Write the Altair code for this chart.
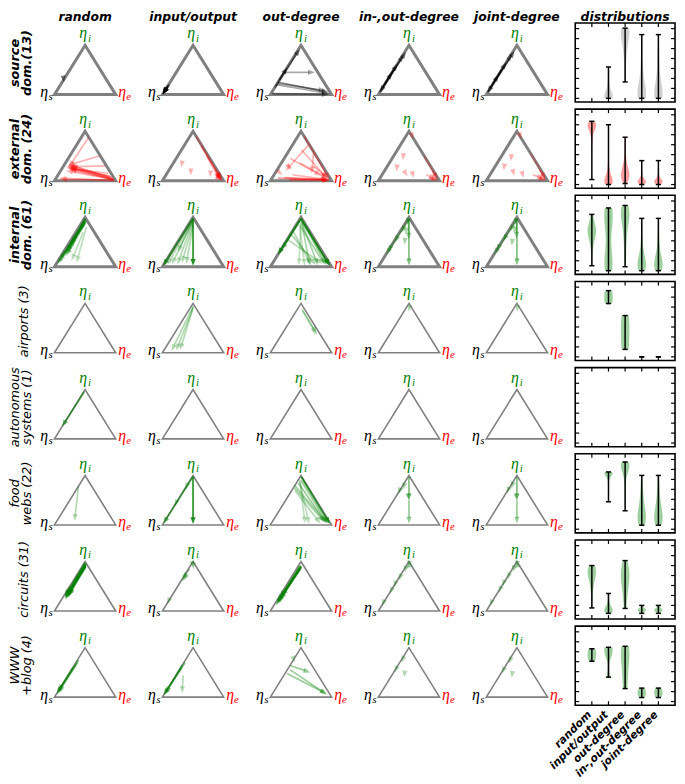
import math
import altair as alt
import pandas as pd

# ------------------------------------------------------------------ data
METHODS = ["random", "input/output", "out-degree", "in-,out-degree", "joint-degree"]
COL_TITLES = METHODS + ["distributions"]
ROW_LABELS = [["source", "dom.(13)"], ["external", "dom. (24)"], ["internal", "dom. (61)"],
              ["airports (3)"], ["autonomous", "systems (1)"], ["food", "webs (22)"],
              ["circuits (31)"], ["WWW", "+blog (4)"]]
ROW_BOLD = [True, True, True, False, False, False, False, False]
ARROW_COLORS = ["#000000", "#ff0000", "#008000", "#008000", "#008000", "#008000", "#008000", "#008000"]
VIOLIN_COLORS = ["#808080", "#ff0000", "#008000", "#008000", "#008000", "#008000", "#008000", "#008000"]

# arrows per method: (eta_i start, eta_e start, eta_i end, eta_e end, alpha)
SOURCE_ARROWS = [
    [(0.30, 0.00, 0.25, 0.03, 0.5)],
    [(0.18, 0.00, 0.01, 0.00, 0.7), (0.15, 0.01, 0.01, 0.00, 0.7), (0.12, 0.00, 0.00, 0.01, 0.7),
     (0.20, 0.01, 0.02, 0.00, 0.6), (0.09, 0.00, 0.00, 0.00, 0.6)],
    [(0.45, 0.00, 0.45, 0.50, 0.35), (0.25, 0.00, 0.05, 0.92, 0.5), (0.22, 0.02, 0.08, 0.86, 0.35),
     (0.20, 0.00, 0.02, 0.95, 0.35), (0.02, 0.02, 0.00, 0.95, 0.4), (0.30, 0.00, 0.92, 0.02, 0.5),
     (0.15, 0.00, 0.55, 0.00, 0.5)],
    [(0.20, 0.00, 0.86, 0.02, 0.5), (0.10, 0.00, 0.62, 0.00, 0.5), (0.55, 0.00, 0.05, 0.00, 0.5),
     (0.35, 0.00, 0.80, 0.01, 0.4), (0.05, 0.00, 0.45, 0.00, 0.5)],
    [(0.22, 0.00, 0.88, 0.02, 0.5), (0.12, 0.00, 0.65, 0.00, 0.5), (0.50, 0.00, 0.04, 0.00, 0.5),
     (0.30, 0.00, 0.82, 0.01, 0.4), (0.05, 0.00, 0.40, 0.00, 0.5)],
]
EXTERNAL_ARROWS = [
    [(0.02, 0.95, 0.30, 0.08, 0.3), (0.04, 0.92, 0.27, 0.10, 0.3), (0.06, 0.90, 0.33, 0.06, 0.3),
     (0.01, 0.97, 0.25, 0.12, 0.3), (0.08, 0.88, 0.29, 0.05, 0.3), (0.03, 0.94, 0.22, 0.14, 0.3),
     (0.05, 0.93, 0.31, 0.12, 0.3), (0.10, 0.85, 0.26, 0.07, 0.3), (0.02, 0.96, 0.20, 0.09, 0.3),
     (0.00, 0.98, 0.05, 0.05, 0.3), (0.01, 0.95, 0.03, 0.08, 0.3), (0.88, 0.12, 0.27, 0.10, 0.3),
     (0.50, 0.48, 0.31, 0.06, 0.3), (0.30, 0.68, 0.28, 0.11, 0.3), (0.15, 0.80, 0.24, 0.13, 0.3)],
    [(0.90, 0.10, 0.02, 0.96, 0.3), (0.70, 0.28, 0.03, 0.95, 0.3), (0.50, 0.47, 0.02, 0.93, 0.3),
     (0.33, 0.15, 0.27, 0.17, 0.3), (0.17, 0.38, 0.11, 0.41, 0.3), (0.13, 0.72, 0.07, 0.75, 0.3),
     (0.22, 0.75, 0.04, 0.92, 0.3), (0.10, 0.85, 0.02, 0.96, 0.3), (0.05, 0.90, 0.01, 0.97, 0.5),
     (0.15, 0.82, 0.01, 0.96, 0.4)],
    [(0.90, 0.10, 0.03, 0.95, 0.35), (0.62, 0.20, 0.05, 0.90, 0.3), (0.45, 0.10, 0.10, 0.78, 0.3),
     (0.30, 0.55, 0.04, 0.93, 0.3), (0.55, 0.43, 0.15, 0.60, 0.3), (0.26, 0.18, 0.22, 0.22, 0.3),
     (0.14, 0.10, 0.11, 0.14, 0.3), (0.12, 0.30, 0.02, 0.92, 0.3), (0.06, 0.20, 0.02, 0.94, 0.4),
     (0.36, 0.30, 0.04, 0.92, 0.3), (0.72, 0.26, 0.20, 0.15, 0.3), (0.05, 0.10, 0.02, 0.96, 0.4),
     (0.02, 0.30, 0.01, 0.96, 0.5)],
    [(0.47, 0.17, 0.42, 0.19, 0.3), (0.24, 0.18, 0.19, 0.20, 0.3), (0.10, 0.52, 0.06, 0.55, 0.3),
     (0.88, 0.12, 0.84, 0.15, 0.3), (0.50, 0.50, 0.03, 0.95, 0.25), (0.20, 0.78, 0.02, 0.96, 0.3),
     (0.12, 0.72, 0.04, 0.92, 0.3), (0.06, 0.80, 0.01, 0.97, 0.5), (0.12, 0.40, 0.09, 0.43, 0.3)],
    [(0.45, 0.18, 0.40, 0.20, 0.3), (0.26, 0.16, 0.21, 0.18, 0.3), (0.10, 0.55, 0.06, 0.58, 0.3),
     (0.88, 0.12, 0.84, 0.15, 0.3), (0.55, 0.45, 0.03, 0.95, 0.25), (0.22, 0.76, 0.02, 0.96, 0.3),
     (0.12, 0.70, 0.04, 0.92, 0.3), (0.06, 0.82, 0.01, 0.97, 0.5), (0.14, 0.38, 0.10, 0.41, 0.3)],
]
INTERNAL_ARROWS = [
    [(0.97, 0.02, 0.20, 0.03, 0.4), (0.95, 0.03, 0.25, 0.05, 0.4), (0.93, 0.03, 0.30, 0.04, 0.4),
     (0.92, 0.05, 0.35, 0.06, 0.4), (0.90, 0.05, 0.40, 0.05, 0.4), (0.88, 0.06, 0.45, 0.04, 0.4),
     (0.96, 0.02, 0.15, 0.02, 0.4), (0.94, 0.04, 0.10, 0.03, 0.4), (0.90, 0.04, 0.05, 0.02, 0.4),
     (0.85, 0.06, 0.50, 0.03, 0.4), (0.98, 0.01, 0.28, 0.07, 0.4), (0.91, 0.06, 0.22, 0.08, 0.4),
     (0.80, 0.12, 0.08, 0.32, 0.25), (0.70, 0.12, 0.12, 0.22, 0.25)],
    [(0.98, 0.01, 0.02, 0.49, 0.85), (0.97, 0.01, 0.02, 0.00, 0.7), (0.95, 0.03, 0.05, 0.13, 0.3),
     (0.92, 0.04, 0.05, 0.22, 0.3), (0.88, 0.06, 0.08, 0.28, 0.3), (0.84, 0.08, 0.06, 0.36, 0.3),
     (0.90, 0.03, 0.30, 0.10, 0.3), (0.94, 0.02, 0.04, 0.06, 0.3)],
    [(0.98, 0.01, 0.02, 0.96, 0.8), (0.97, 0.01, 0.25, 0.00, 0.8), (0.92, 0.05, 0.04, 0.62, 0.35),
     (0.88, 0.08, 0.03, 0.76, 0.35), (0.85, 0.05, 0.05, 0.86, 0.35), (0.95, 0.03, 0.03, 0.90, 0.4),
     (0.65, 0.02, 0.04, 0.72, 0.3), (0.55, 0.01, 0.06, 0.82, 0.3), (0.70, 0.03, 0.02, 0.66, 0.3),
     (0.90, 0.05, 0.03, 0.45, 0.25), (0.80, 0.08, 0.02, 0.55, 0.25), (0.93, 0.02, 0.35, 0.01, 0.5),
     (0.96, 0.02, 0.03, 0.94, 0.5)],
    [(0.97, 0.015, 0.03, 0.485, 0.5), (0.95, 0.02, 0.55, 0.22, 0.4), (0.80, 0.02, 0.70, 0.03, 0.4),
     (0.60, 0.01, 0.50, 0.02, 0.4), (0.40, 0.00, 0.30, 0.02, 0.4), (0.90, 0.03, 0.85, 0.05, 0.4),
     (0.50, 0.18, 0.45, 0.20, 0.35), (0.95, 0.02, 0.25, 0.00, 0.35), (0.70, 0.10, 0.65, 0.12, 0.3)],
    [(0.97, 0.015, 0.03, 0.485, 0.5), (0.95, 0.02, 0.57, 0.21, 0.4), (0.82, 0.02, 0.72, 0.03, 0.4),
     (0.62, 0.01, 0.52, 0.02, 0.4), (0.42, 0.00, 0.32, 0.02, 0.4), (0.90, 0.03, 0.85, 0.05, 0.4),
     (0.48, 0.18, 0.43, 0.20, 0.35), (0.95, 0.02, 0.25, 0.00, 0.35), (0.72, 0.10, 0.67, 0.12, 0.3)],
]
AIRPORT_ARROWS = [
    [],
    [(0.95, 0.03, 0.04, 0.13, 0.3), (0.93, 0.04, 0.06, 0.26, 0.3), (0.90, 0.05, 0.05, 0.20, 0.3)],
    [(0.88, 0.08, 0.40, 0.55, 0.3), (0.85, 0.10, 0.36, 0.58, 0.3)],
    [(0.86, 0.07, 0.83, 0.08, 0.3)],
    [(0.86, 0.07, 0.83, 0.08, 0.3)],
]
AUTONOMOUS_ARROWS = [
    [(0.95, 0.01, 0.25, 0.00, 0.6)], [], [], [], [],
]
FOOD_ARROWS = [
    [(0.78, 0.00, 0.08, 0.29, 0.3)],
    [(0.98, 0.01, 0.02, 0.49, 0.85), (0.97, 0.01, 0.03, 0.00, 0.6), (0.80, 0.00, 0.72, 0.02, 0.3),
     (0.45, 0.00, 0.38, 0.01, 0.3)],
    [(0.97, 0.02, 0.02, 0.96, 0.8), (0.90, 0.05, 0.03, 0.92, 0.4), (0.85, 0.03, 0.05, 0.88, 0.4),
     (0.80, 0.00, 0.04, 0.90, 0.35), (0.75, 0.02, 0.06, 0.85, 0.35), (0.92, 0.02, 0.03, 0.55, 0.25),
     (0.88, 0.04, 0.02, 0.62, 0.25), (0.70, 0.05, 0.03, 0.80, 0.3)],
    [(0.97, 0.015, 0.50, 0.25, 0.5), (0.50, 0.25, 0.03, 0.485, 0.4), (0.80, 0.02, 0.72, 0.04, 0.35),
     (0.70, 0.00, 0.62, 0.02, 0.35), (0.55, 0.22, 0.50, 0.25, 0.3)],
    [(0.97, 0.015, 0.50, 0.25, 0.5), (0.50, 0.25, 0.03, 0.485, 0.4), (0.82, 0.02, 0.74, 0.04, 0.35),
     (0.72, 0.00, 0.64, 0.02, 0.35), (0.55, 0.22, 0.50, 0.25, 0.3)],
]
CIRCUIT_ARROWS = [
    [(0.97, 0.02, 0.30, 0.02, 0.5), (0.95, 0.03, 0.28, 0.04, 0.5), (0.93, 0.03, 0.33, 0.03, 0.5),
     (0.92, 0.05, 0.26, 0.05, 0.5), (0.96, 0.02, 0.35, 0.04, 0.5), (0.94, 0.04, 0.30, 0.06, 0.5),
     (0.90, 0.06, 0.32, 0.05, 0.5), (0.98, 0.01, 0.27, 0.03, 0.5), (0.91, 0.05, 0.29, 0.07, 0.5),
     (0.95, 0.04, 0.24, 0.06, 0.5), (0.89, 0.07, 0.34, 0.06, 0.5), (0.93, 0.05, 0.31, 0.08, 0.4)],
    [(0.95, 0.03, 0.85, 0.08, 0.3), (0.85, 0.02, 0.65, 0.00, 0.3), (0.75, 0.01, 0.60, 0.02, 0.3),
     (0.92, 0.04, 0.88, 0.07, 0.3), (0.20, 0.00, 0.14, 0.01, 0.3), (0.70, 0.03, 0.62, 0.03, 0.3)],
    [(0.92, 0.04, 0.20, 0.02, 0.5), (0.90, 0.05, 0.25, 0.03, 0.5), (0.88, 0.06, 0.18, 0.04, 0.5),
     (0.91, 0.03, 0.28, 0.02, 0.5), (0.87, 0.05, 0.22, 0.05, 0.5), (0.89, 0.04, 0.15, 0.03, 0.5),
     (0.86, 0.07, 0.30, 0.04, 0.5), (0.90, 0.06, 0.12, 0.03, 0.5)],
    [(0.95, 0.03, 0.88, 0.06, 0.3), (0.85, 0.02, 0.78, 0.05, 0.3), (0.70, 0.01, 0.62, 0.03, 0.3),
     (0.55, 0.00, 0.48, 0.02, 0.3), (0.40, 0.01, 0.35, 0.02, 0.3), (0.15, 0.00, 0.10, 0.01, 0.3),
     (0.92, 0.05, 0.85, 0.03, 0.3)],
    [(0.95, 0.03, 0.88, 0.06, 0.3), (0.86, 0.02, 0.79, 0.05, 0.3), (0.72, 0.01, 0.64, 0.03, 0.3),
     (0.57, 0.00, 0.50, 0.02, 0.3), (0.42, 0.01, 0.37, 0.02, 0.3), (0.15, 0.00, 0.10, 0.01, 0.3),
     (0.92, 0.05, 0.85, 0.03, 0.3)],
]
WWW_ARROWS = [
    [(0.75, 0.02, 0.08, 0.00, 0.5), (0.70, 0.03, 0.10, 0.02, 0.4), (0.65, 0.02, 0.05, 0.01, 0.4),
     (0.60, 0.00, 0.12, 0.00, 0.4)],
    [(0.70, 0.02, 0.05, 0.00, 0.5), (0.65, 0.00, 0.08, 0.01, 0.5), (0.60, 0.02, 0.03, 0.00, 0.4),
     (0.44, 0.12, 0.08, 0.28, 0.3)],
    [(0.64, 0.00, 0.50, 0.40, 0.4), (0.55, 0.05, 0.05, 0.90, 0.4), (0.48, 0.03, 0.07, 0.88, 0.4),
     (0.75, 0.01, 0.70, 0.05, 0.3)],
    [(0.80, 0.01, 0.70, 0.03, 0.3), (0.60, 0.00, 0.50, 0.02, 0.3), (0.45, 0.20, 0.40, 0.22, 0.3)],
    [(0.78, 0.01, 0.68, 0.03, 0.3), (0.58, 0.00, 0.48, 0.02, 0.3), (0.44, 0.20, 0.39, 0.22, 0.3)],
]
ARROWS = [SOURCE_ARROWS, EXTERNAL_ARROWS, INTERNAL_ARROWS, AIRPORT_ARROWS,
          AUTONOMOUS_ARROWS, FOOD_ARROWS, CIRCUIT_ARROWS, WWW_ARROWS]

# distance distributions per method (violin samples)
SOURCE_DIST = [
    [],
    [0, 0, 0, 0, 0.02, 0.03, 0.05, 0.08, 0.12, 0.2, 0.3, 0.45, 0.63],
    [0.33, 0.6, 0.85, 1.0, 1.1, 1.2, 1.25, 1.3, 1.33, 1.36, 1.38, 1.4, 1.41],
    [0, 0, 0.02, 0.04, 0.06, 0.1, 0.15, 0.2, 0.3, 0.45, 0.6, 0.9, 1.28],
    [0, 0, 0.02, 0.04, 0.06, 0.1, 0.15, 0.2, 0.3, 0.45, 0.62, 0.9, 1.28],
]
EXTERNAL_DIST = [
    [0.1, 0.35, 0.7, 0.85, 0.95, 1.0, 1.05, 1.08, 1.1, 1.12, 1.14, 1.15, 1.16, 1.17, 1.18, 1.19,
     1.2, 1.21, 1.22, 1.23, 1.24, 1.25, 1.26, 1.27],
    [0, 0, 0, 0.01, 0.02, 0.03, 0.04, 0.05, 0.06, 0.07, 0.08, 0.09, 0.1, 0.12, 0.14, 0.16, 0.2,
     0.25, 0.3, 0.4, 0.55, 0.7, 0.9, 1.2],
    [0.02, 0.05, 0.08, 0.1, 0.12, 0.14, 0.15, 0.17, 0.18, 0.2, 0.21, 0.22, 0.24, 0.26, 0.28, 0.3,
     0.33, 0.36, 0.4, 0.45, 0.5, 0.6, 0.75, 0.95],
    [0, 0.01, 0.02, 0.03, 0.03, 0.04, 0.04, 0.05, 0.05, 0.06, 0.06, 0.07, 0.07, 0.08, 0.09, 0.1,
     0.11, 0.12, 0.14, 0.16, 0.2, 0.25, 0.35, 0.48],
    [0, 0.01, 0.02, 0.03, 0.03, 0.04, 0.04, 0.05, 0.05, 0.06, 0.06, 0.07, 0.07, 0.08, 0.09, 0.1,
     0.11, 0.12, 0.14, 0.16, 0.2, 0.25, 0.35, 0.48],
]
INTERNAL_DIST = [
    [0.1, 0.25, 0.4, 0.5, 0.55, 0.6, 0.65, 0.68, 0.7, 0.72, 0.74, 0.76, 0.78, 0.8, 0.82, 0.84,
     0.86, 0.88, 0.9, 0.93, 0.96, 1.0, 1.06, 1.13],
    [0, 0.02, 0.04, 0.06, 0.08, 0.1, 0.12, 0.15, 0.2, 0.3, 0.45, 0.6, 0.75, 0.9, 1.0, 1.05, 1.1,
     1.13, 1.16, 1.18, 1.2, 1.22, 1.24, 1.26],
    [0.08, 0.2, 0.35, 0.5, 0.6, 0.7, 0.8, 0.85, 0.9, 0.95, 1.0, 1.05, 1.08, 1.1, 1.13, 1.15, 1.17,
     1.2, 1.22, 1.24, 1.26, 1.28, 1.3, 1.31],
    [0, 0, 0.02, 0.03, 0.05, 0.06, 0.08, 0.1, 0.12, 0.14, 0.16, 0.18, 0.2, 0.22, 0.25, 0.28, 0.32,
     0.36, 0.42, 0.5, 0.6, 0.72, 0.88, 1.05],
    [0, 0, 0.02, 0.03, 0.05, 0.06, 0.08, 0.1, 0.12, 0.14, 0.16, 0.18, 0.2, 0.22, 0.25, 0.28, 0.32,
     0.36, 0.42, 0.5, 0.6, 0.72, 0.88, 1.05],
]
AIRPORT_DIST = [[], [1.07, 1.2, 1.33], [0.15, 0.5, 0.83], [0, 0, 0], [0, 0, 0]]
AUTONOMOUS_DIST = [[], [], [], [], []]
FOOD_DIST = [
    [],
    [0.55, 0.7, 0.85, 0.95, 1.0, 1.03, 1.05, 1.07, 1.08, 1.09, 1.1, 1.1, 1.11, 1.12, 1.12, 1.13,
     1.13, 1.14, 1.14, 1.15, 1.15, 1.15],
    [0.37, 0.55, 0.7, 0.85, 0.95, 1.05, 1.1, 1.15, 1.18, 1.2, 1.22, 1.24, 1.26, 1.27, 1.28, 1.29,
     1.3, 1.31, 1.32, 1.33, 1.34, 1.35],
    [0.08, 0.1, 0.12, 0.14, 0.16, 0.18, 0.2, 0.22, 0.25, 0.28, 0.3, 0.33, 0.36, 0.4, 0.45, 0.5,
     0.56, 0.63, 0.72, 0.82, 0.95, 1.08],
    [0.08, 0.1, 0.12, 0.14, 0.16, 0.18, 0.2, 0.22, 0.25, 0.28, 0.3, 0.33, 0.36, 0.4, 0.45, 0.5,
     0.56, 0.63, 0.72, 0.82, 0.95, 1.08],
]
CIRCUIT_DIST = [
    [0.15, 0.3, 0.45, 0.55, 0.62, 0.68, 0.72, 0.76, 0.8, 0.82, 0.84, 0.86, 0.88, 0.9, 0.92, 0.94,
     0.96, 0.98, 1.0],
    [0.04, 0.05, 0.06, 0.07, 0.08, 0.09, 0.1, 0.11, 0.12, 0.13, 0.14, 0.16, 0.18, 0.2, 0.24, 0.3,
     0.36, 0.44],
    [0.14, 0.25, 0.35, 0.45, 0.52, 0.58, 0.63, 0.68, 0.72, 0.76, 0.8, 0.84, 0.88, 0.92, 0.96, 1.0,
     1.05, 1.1],
    [0.04, 0.06, 0.08, 0.09, 0.1, 0.1, 0.11, 0.12, 0.13, 0.14, 0.16, 0.2],
    [0.04, 0.06, 0.08, 0.09, 0.1, 0.1, 0.11, 0.12, 0.13, 0.14, 0.16, 0.2],
]
WWW_DIST = [
    [0.81, 0.9, 0.98, 1.06],
    [0.49, 0.95, 1.05, 1.09],
    [0.26, 0.7, 1.0, 1.11],
    [0.08, 0.15, 0.2, 0.27],
    [0.08, 0.15, 0.2, 0.27],
]
DISTS = [SOURCE_DIST, EXTERNAL_DIST, INTERNAL_DIST, AIRPORT_DIST,
         AUTONOMOUS_DIST, FOOD_DIST, CIRCUIT_DIST, WWW_DIST]
Y_TICKS = [0, 0.2, 0.4, 0.6, 0.8, 1.0, 1.2, 1.4]

# ------------------------------------------------------------------ layout
CH_W, CH_H = 677, 776
TRI_X0, TRI_DX, TRI_Y0, TRI_DY = 86.0, 109.25, 41.0, 87.1
TRI_W, TRI_H = 62.0, 50.0
BOX_L, BOX_R, BOX_T0, BOX_DY, BOX_H = 582.0, 683.0, 18.5, 87.2, 80.0
V_STEP = (BOX_R - BOX_L) / 6.0
ZERO_OFF, PX_UNIT = 76.3, 50.4
HALF_W = 4.3
HEAD_SIZE = 110
HEAD_LEN = 1.3 * math.sqrt(HEAD_SIZE) / 2
HEAD_PATH = "M0,0L-0.5,1.3L0.5,1.3Z"
GRAY = "#808080"
GREEN, RED = "#008000", "#ff0000"
TITLE_Y = 16.8
TITLE_SIZE = 12.5

xs = alt.Scale(domain=[8, 8 + CH_W], nice=False, zero=False)
ys = alt.Scale(domain=[8 + CH_H, 8], nice=False, zero=False)


def X(f):
    return alt.X(f, type="quantitative", scale=xs, axis=None)


def Y(f):
    return alt.Y(f, type="quantitative", scale=ys, axis=None)


def tern_xy(r, c, ei, ee):
    left = TRI_X0 + TRI_DX * c - TRI_W / 2
    base = TRI_Y0 + TRI_DY * r + TRI_H
    return left + TRI_W * (ee + ei / 2.0), base - TRI_H * ei


# triangle outlines
tri = []
for r in range(8):
    for c in range(5):
        for k, (ei, ee) in enumerate([(0, 0), (0, 1), (1, 0), (0, 0), (0, 1)]):
            x, y = tern_xy(r, c, ei, ee)
            tri.append(dict(gid=f"{r}-{c}", k=k, x=x, y=y, thick=r < 3))
tri = pd.DataFrame(tri)

# arrows
shafts, heads = [], []
for r, row in enumerate(ARROWS):
    for c, lst in enumerate(row):
        for (i0, e0, i1, e1, a) in lst:
            x0, y0 = tern_xy(r, c, i0, e0)
            x1, y1 = tern_xy(r, c, i1, e1)
            dx, dy = x1 - x0, y1 - y0
            L = math.hypot(dx, dy)
            if L < 1e-6:
                continue
            ang = (math.degrees(math.atan2(dx, -dy)) + 360) % 360
            heads.append(dict(x=x1, y=y1, ang=ang, a=a, col=ARROW_COLORS[r]))
            if L > HEAD_LEN:
                t = (L - 0.8 * HEAD_LEN) / L
                shafts.append(dict(x=x0, y=y0, x2=x0 + dx * t, y2=y0 + dy * t,
                                   a=a, col=ARROW_COLORS[r]))
shafts = pd.DataFrame(shafts)
heads = pd.DataFrame(heads)

# vertex labels
eta, sub = [], []
for r in range(8):
    for c in range(5):
        ax, ay = tern_xy(r, c, 1, 0)
        lx, by = tern_xy(r, c, 0, 0)
        rx, _ = tern_xy(r, c, 0, 1)
        eta += [dict(x=ax - 2, y=ay - 7.0, t="η", col=GREEN),
                dict(x=lx - 10.5, y=by + 2.5, t="η", col="#000000"),
                dict(x=rx + 6.5, y=by + 2.5, t="η", col=RED)]
        sub += [dict(x=ax + 4.5, y=ay - 3.5, t="i", col=GREEN),
                dict(x=lx - 4.0, y=by + 5.5, t="s", col="#000000"),
                dict(x=rx + 13.0, y=by + 5.5, t="e", col=RED)]
eta = pd.DataFrame(eta)
sub = pd.DataFrame(sub)

# titles
titles = pd.DataFrame([dict(x=(TRI_X0 + TRI_DX * c) if c < 5 else (BOX_L + BOX_R) / 2,
                            y=TITLE_Y, t=t) for c, t in enumerate(COL_TITLES)])
rl = []
for r, lines in enumerate(ROW_LABELS):
    cy = TRI_Y0 + TRI_DY * r + 18
    xs_l = [15.5, 27.5] if len(lines) == 2 else [24.5]
    for xl, t in zip(xs_l, lines):
        rl.append(dict(x=xl, y=cy, t=t, bold=ROW_BOLD[r]))
rl = pd.DataFrame(rl)
xlab = pd.DataFrame([dict(x=BOX_L + (m + 1) * V_STEP - 2, y=BOX_T0 + 7 * BOX_DY + BOX_H + 8, t=t)
                     for m, t in enumerate(METHODS)])

# violin frames and ticks
frames = pd.DataFrame([dict(x=BOX_L, x2=BOX_R, y=BOX_T0 + r * BOX_DY, y2=BOX_T0 + r * BOX_DY + BOX_H)
                       for r in range(8)])
ticks = []
for r in range(8):
    top = BOX_T0 + r * BOX_DY
    bot = top + BOX_H
    for t in Y_TICKS:
        yy = top + ZERO_OFF - t * PX_UNIT
        ticks.append(dict(x=BOX_L, x2=BOX_L + 4, y=yy, y2=yy))
        ticks.append(dict(x=BOX_R - 4, x2=BOX_R, y=yy, y2=yy))
    for m in range(5):
        xx = BOX_L + (m + 1) * V_STEP
        ticks.append(dict(x=xx, x2=xx, y=top, y2=top + 4))
        ticks.append(dict(x=xx, x2=xx, y=bot - 4, y2=bot))
ticks = pd.DataFrame(ticks)

samples = []
for r, row in enumerate(DISTS):
    for m, vals in enumerate(row):
        for v in vals:
            samples.append(dict(row=r, m=m, v=v, col=VIOLIN_COLORS[r]))
samples = pd.DataFrame(samples)

CX = f"{BOX_L} + (datum.m + 1) * {V_STEP}"


def PY(f):
    return f"{BOX_T0} + datum.row * {BOX_DY} + {ZERO_OFF} - datum.{f} * {PX_UNIT}"


# ------------------------------------------------------------------ layers
tri_thick = alt.Chart(tri).transform_filter("datum.thick").mark_line(
    color=GRAY, strokeWidth=3, strokeJoin="miter", strokeCap="butt").encode(
    x=X("x"), y=Y("y"), detail="gid:N", order="k:Q")
tri_thin = alt.Chart(tri).transform_filter("!datum.thick").mark_line(
    color=GRAY, strokeWidth=1.6, strokeJoin="miter", strokeCap="butt").encode(
    x=X("x"), y=Y("y"), detail="gid:N", order="k:Q")

shaft_l = alt.Chart(shafts).mark_rule(strokeWidth=1.7, strokeCap="butt").encode(
    x=X("x"), y=Y("y"), x2="x2:Q", y2="y2:Q",
    color=alt.Color("col:N", scale=None), opacity=alt.Opacity("a:Q", scale=None))
head_l = alt.Chart(heads).mark_point(shape=HEAD_PATH, filled=True, size=HEAD_SIZE, strokeWidth=0).encode(
    x=X("x"), y=Y("y"), angle=alt.Angle("ang:Q", scale=None),
    color=alt.Color("col:N", scale=None), opacity=alt.Opacity("a:Q", scale=None))

eta_l = alt.Chart(eta).mark_text(font="Liberation Serif", fontStyle="italic", fontSize=16,
                                 align="center", baseline="alphabetic").encode(
    x=X("x"), y=Y("y"), text="t:N", color=alt.Color("col:N", scale=None))
sub_l = alt.Chart(sub).mark_text(font="Liberation Serif", fontStyle="italic", fontSize=11,
                                 align="center", baseline="alphabetic").encode(
    x=X("x"), y=Y("y"), text="t:N", color=alt.Color("col:N", scale=None))

title_l = alt.Chart(titles).mark_text(font="DejaVu Sans", fontStyle="italic", fontWeight="bold",
                                      fontSize=TITLE_SIZE, align="center", baseline="alphabetic",
                                      color="black").encode(x=X("x"), y=Y("y"), text="t:N")
rl_bold = alt.Chart(rl).transform_filter("datum.bold").mark_text(
    font="DejaVu Sans", fontStyle="italic", fontWeight="bold", fontSize=13, angle=270,
    align="center", baseline="middle", color="black").encode(x=X("x"), y=Y("y"), text="t:N")
rl_norm = alt.Chart(rl).transform_filter("!datum.bold").mark_text(
    font="DejaVu Sans", fontStyle="italic", fontWeight="normal", fontSize=13, angle=270,
    align="center", baseline="middle", color="black").encode(x=X("x"), y=Y("y"), text="t:N")
xlab_l = alt.Chart(xlab).mark_text(font="DejaVu Sans", fontStyle="italic", fontWeight="bold",
                                   fontSize=11, angle=315, align="right", baseline="middle",
                                   color="black").encode(x=X("x"), y=Y("y"), text="t:N")

violin = alt.Chart(samples).transform_joinaggregate(
    lo="min(v)", hi="max(v)", groupby=["row", "m"]
).transform_filter("datum.hi - datum.lo > 0.02").transform_density(
    "v", groupby=["row", "m", "lo", "hi", "col"], extent=[0, 1.45], steps=700, as_=["val", "dens"]
).transform_filter("datum.val >= datum.lo - 0.001 && datum.val <= datum.hi + 0.001").transform_joinaggregate(
    dmax="max(dens)", groupby=["row", "m"]
).transform_calculate(
    cx=CX, py=PY("val"), gid="datum.row * 10 + datum.m"
).transform_calculate(
    xl=f"datum.cx - {HALF_W} * datum.dens / datum.dmax",
    xr=f"datum.cx + {HALF_W} * datum.dens / datum.dmax"
).mark_area(orient="horizontal", opacity=0.38).encode(
    y=Y("py"), x=X("xl"), x2="xr:Q", detail="gid:N", color=alt.Color("col:N", scale=None))

stats = alt.Chart(samples).transform_aggregate(
    lo="min(v)", hi="max(v)", groupby=["row", "m"]
).transform_calculate(cx=CX, ylo=PY("lo"), yhi=PY("hi")).transform_calculate(
    cl="datum.cx - 2.6", cr="datum.cx + 2.6")
whisk = stats.mark_rule(color="black", strokeWidth=1.5).encode(x=X("cx"), y=Y("ylo"), y2="yhi:Q")
cap_lo = stats.mark_rule(color="black", strokeWidth=1.5).encode(x=X("cl"), x2="cr:Q", y=Y("ylo"))
cap_hi = stats.mark_rule(color="black", strokeWidth=1.5).encode(x=X("cl"), x2="cr:Q", y=Y("yhi"))

frame_l = alt.Chart(frames).mark_rect(fillOpacity=0, stroke="black", strokeWidth=1.6).encode(
    x=X("x"), x2="x2:Q", y=Y("y"), y2="y2:Q")
tick_l = alt.Chart(ticks).mark_rule(color="black", strokeWidth=1.2).encode(
    x=X("x"), x2="x2:Q", y=Y("y"), y2="y2:Q")

chart = alt.layer(
    tri_thick, tri_thin, shaft_l, head_l, eta_l, sub_l, title_l, rl_bold, rl_norm,
    violin, whisk, cap_lo, cap_hi, frame_l, tick_l, xlab_l
).properties(
    width=CH_W, height=CH_H, padding=0, autosize=alt.AutoSizeParams(type="none")
).configure_view(stroke=None)

chart.save("out.html", embed_options={"renderer": "svg", "actions": False})
